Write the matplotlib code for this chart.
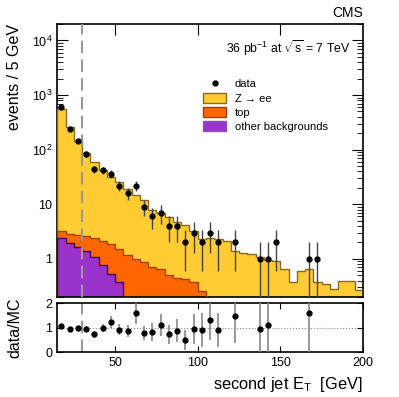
import numpy as np
import matplotlib
matplotlib.use('Agg')
import matplotlib.pyplot as plt
from matplotlib.patches import Patch
from matplotlib.lines import Line2D

plt.rcParams['font.family'] = ['Liberation Sans', 'DejaVu Sans']
plt.rcParams['mathtext.fontset'] = 'custom'
plt.rcParams['mathtext.rm'] = 'Liberation Sans'
plt.rcParams['mathtext.it'] = 'Liberation Sans:italic'

# 5 GeV bins from 15 to 200
edges = np.arange(15, 205, 5)

# stacked heights (cumulative: all / top+other / other)
h_all = [560, 255, 146, 87, 59, 42, 31, 26, 19, 15, 12, 8, 6.8, 5.8, 4.7, 4.2, 3.3,
         2.3, 2.4, 2.3, 2.15, 1.42, 1.29, 1.23, 1.08, 0.96, 0.91, 0.66, 0.38, 0.6,
         0.66, 0.37, 0.35, 0.28, 0.4, 0.4, 0.27]
h_top = [3.3, 2.9, 2.7, 2.65, 2.4, 2.1, 1.85, 1.5, 1.2, 1.0, 0.88, 0.72, 0.65, 0.5,
         0.45, 0.42, 0.38, 0.26] + [0] * 19
h_other = [2.4, 1.97, 1.68, 1.38, 1.06, 0.78, 0.53, 0.37] + [0] * 29

# data points
data_x = [17.5, 22.5, 27.5, 32.5, 37.5, 42.5, 47.5, 52.5, 57.5, 62.5, 67.5, 72.5,
          77.5, 82.5, 87.5, 92.5, 97.5, 102.5, 107.5, 112.5, 122.5, 137.5, 142.5,
          147.5, 167.5, 172.5]
data_y = [600, 240, 145, 84, 44, 42, 36, 22, 16, 22, 9, 6, 7, 4, 4, 2, 3, 2, 3, 2,
          2, 1, 1, 2, 1, 1]
data_err = [24, 15.5, 12, 9.2, 6.6, 6.5, 6, 4.7, 4, 4.7, 3, 2.45, 2.65, 2, 2, 1.41,
            1.73, 1.41, 1.73, 1.41, 1.41, 1, 1, 1.41, 1, 1]

# data/MC ratio
ratio_x = [17.5, 22.5, 27.5, 32.5, 37.5, 42.5, 47.5, 52.5, 57.5, 62.5, 67.5, 72.5,
           77.5, 82.5, 87.5, 92.5, 97.5, 102.5, 107.5, 112.5, 122.5, 137.5, 142.5,
           167.5]
ratio_y = [1.07, 0.95, 1.0, 0.96, 0.73, 1.0, 1.24, 0.92, 0.88, 1.59, 0.79, 0.82,
           1.13, 0.73, 0.88, 0.49, 0.95, 0.9, 1.32, 0.9, 1.49, 0.96, 1.1, 1.62]
ratio_err = [0.05, 0.07, 0.09, 0.12, 0.13, 0.17, 0.23, 0.22, 0.24, 0.45, 0.3, 0.36,
             0.45, 0.4, 0.46, 0.4, 0.6, 0.7, 0.8, 0.7, 1.1, 1.1, 1.1, 1.7]

YELLOW = '#ffcc33'
ORANGE = '#ff6600'
PURPLE = '#9933cc'

fig = plt.figure(figsize=(3.99, 3.97), dpi=100)
ax = fig.add_axes([0.1436, 0.2519, 0.766, 0.6876])
rx = fig.add_axes([0.1436, 0.1126, 0.766, 0.1234])

floor = 1e-3
for h, fc, ec in [(h_all, YELLOW, '#8a6a1a'), (h_top, ORANGE, '#a04000'),
                  (h_other, PURPLE, '#330066')]:
    v = np.where(np.array(h) > 0, h, floor)
    ax.stairs(v, edges, fill=True, color=fc, baseline=floor, zorder=2)
    ax.stairs(v, edges, fill=False, color=ec, lw=1.0, baseline=floor, zorder=3)

ax.axvline(30, color='#999999', lw=1.5, ls=(0, (6, 3)), zorder=4)
rx.axvline(30, color='#999999', lw=1.5, ls=(0, (6, 3)), zorder=1)

# errors clipped so they stay on the log axis
lo = [min(e, y - 0.01) for y, e in zip(data_y, data_err)]
ax.errorbar(data_x, data_y, yerr=[lo, data_err], fmt='o', color='black', ms=3.5,
            ecolor='#444444', elinewidth=1.0, capsize=0, zorder=5)

ax.set_yscale('log')
ax.set_xlim(15, 200)
ax.set_ylim(0.2, 2e4)
ax.set_yticks([1, 10, 100, 1000, 10000])
ax.set_yticklabels(['1', '10', '$10^{2}$', '$10^{3}$', '$10^{4}$'])
ax.set_xticks([50, 100, 150])
ax.tick_params(axis='x', labelbottom=False)
ax.tick_params(which='both', direction='in', top=True, right=True, labelsize=9)
ax.tick_params(which='major', length=8)
ax.tick_params(which='minor', length=4)
ax.set_ylabel('events / 5 GeV', fontsize=11.5, loc='top')
ax.yaxis.set_label_coords(-0.115, 1.0)
for s in ax.spines.values():
    s.set_linewidth(1.2)

ax.text(1.0, 1.015, 'CMS', transform=ax.transAxes, ha='right', va='bottom', fontsize=10)
ax.text(0.96, 0.91, '36 pb$^{-1}$ at $\\sqrt{\\mathrm{s}}$ = 7 TeV',
        transform=ax.transAxes, ha='right', va='center', fontsize=8.8)

handles = [Line2D([], [], marker='o', color='black', ls='none', ms=3.5),
           Patch(facecolor=YELLOW, edgecolor='#8a6a1a'),
           Patch(facecolor=ORANGE, edgecolor='#a04000'),
           Patch(facecolor=PURPLE, edgecolor='#8855aa')]
ax.legend(handles, ['data', 'Z \u2192 ee', 'top', 'other backgrounds'],
          loc='upper left', bbox_to_anchor=(0.46, 0.82), frameon=False,
          fontsize=8, handlelength=2.0, handleheight=1.0, labelspacing=0.3,
          handletextpad=0.8, borderpad=0)

rx.axhline(1, color='#888888', lw=0.8, ls=':', zorder=1)
rx.errorbar(ratio_x, ratio_y, yerr=ratio_err, fmt='o', color='black', ms=3.5,
            ecolor='#888888', elinewidth=1.2, capsize=0, zorder=3)
rx.set_xlim(15, 200)
rx.set_ylim(0, 2)
rx.set_yticks([0, 1, 2])
rx.set_xticks([50, 100, 150, 200])
rx.tick_params(which='both', direction='in', top=True, right=True, labelsize=9,
               length=4)
rx.set_ylabel('data/MC', fontsize=11.5)
rx.yaxis.set_label_coords(-0.115, 0.5)
rx.set_xlabel('second jet E$_{\\mathrm{T}}$  [GeV]', fontsize=11.8, loc='right')
for s in rx.spines.values():
    s.set_linewidth(1.2)

fig.savefig('out.png', dpi=100)
